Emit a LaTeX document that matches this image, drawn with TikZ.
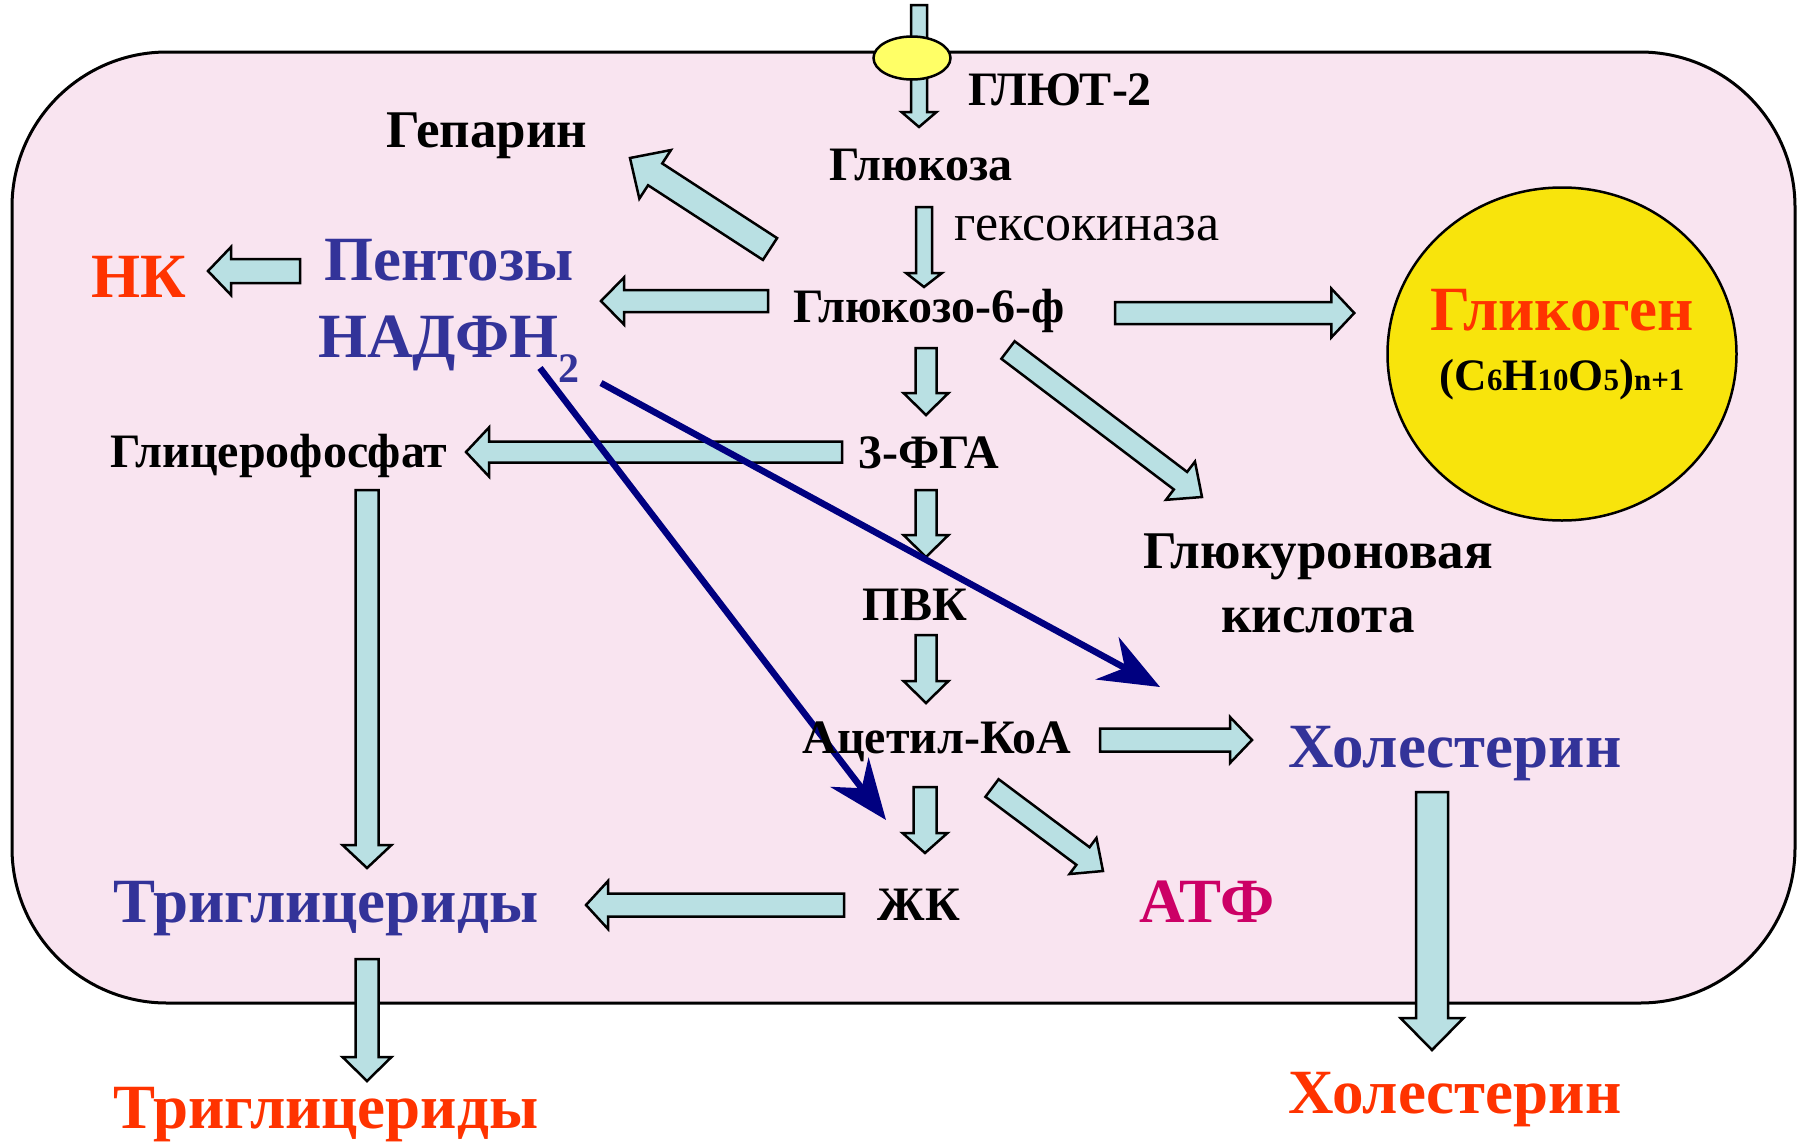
\documentclass[tikz,border=0pt]{standalone}
\usepackage{fontspec}
\setmainfont{Liberation Serif}
\usetikzlibrary{calc,shapes.geometric,arrows.meta}

\definecolor{cellpink}{RGB}{249,228,240}
\definecolor{flowcyan}{RGB}{185,224,227}
\definecolor{poreyellow}{RGB}{255,255,102}
\definecolor{storeyellow}{RGB}{248,228,12}
\definecolor{lipidblue}{RGB}{51,51,153}
\definecolor{outred}{RGB}{255,51,0}
\definecolor{atpmagenta}{RGB}{204,0,102}
\definecolor{redoxnavy}{RGB}{0,0,128}

\pgfdeclarelayer{back}
\pgfdeclarelayer{mid}
\pgfsetlayers{back,mid,main}

% block arrow: start, tip, half shaft, half head, head length (pt)
\newcommand\flowarrow[5]{%
  \path (#1) coordinate (fa-s) (#2) coordinate (fa-t);
  \path ($(fa-t)!#5pt!(fa-s)$) coordinate (fa-h);
  \draw[flow] ($(fa-s)!#3pt!90:(fa-t)$) -- ($(fa-h)!#3pt!90:(fa-t)$)
    -- ($(fa-h)!#4pt!90:(fa-t)$) -- (fa-t) -- ($(fa-h)!#4pt!-90:(fa-t)$)
    -- ($(fa-h)!#3pt!-90:(fa-t)$) -- ($(fa-s)!#3pt!-90:(fa-t)$) -- cycle;}

\tikzset{
  lbl/.style={anchor=base, inner sep=0pt, font=\fontsize{48}{56}\selectfont\bfseries},
  mid/.style={lbl, font=\fontsize{53}{60}\selectfont\bfseries},
  big/.style={lbl, font=\fontsize{63}{70}\selectfont\bfseries},
  flow/.style={draw=black, fill=flowcyan, line width=2.5pt, line join=miter},
  redox/.style={draw=redoxnavy, line width=6.5pt,
    -{Stealth[length=60pt,width=48pt,inset=20pt]}},
  cell/.style={draw=black, line width=3pt, fill=cellpink, rounded corners=155pt},
  pore/.style={ellipse, draw=black, line width=2.5pt, fill=poreyellow,
    minimum width=77pt, minimum height=43pt, inner sep=0pt},
  store/.style={ellipse, draw=black, line width=2.5pt, fill=storeyellow,
    minimum width=349pt, minimum height=333pt, inner sep=0pt}
}
\newcommand\idx[1]{{\fontsize{31}{31}\selectfont #1}}

\begin{document}
\begin{tikzpicture}[x=1pt, y=-1pt]
\useasboundingbox (0,0) rectangle (1805,1141);

% labels
\node[lbl] (glut) at (1060,105) {ГЛЮТ-2};
\node[mid] (hep) at (487,147) {Гепарин};
\node[lbl] (glc) at (921,180) {Глюкоза};
\node[lbl, font=\fontsize{52}{60}\selectfont] (hexo) at (1087,240) {гексокиназа};
\node[lbl] (g6p) at (929,322) {Глюкозо-6-ф};
\node[big, lipidblue] (pent) at (449,280) {Пентозы};
\node[big, lipidblue] (nadph) at (449,357)
  {НАДФН\raisebox{-25pt}{\fontsize{42}{42}\selectfont 2}};
\node[big, outred] (nk) at (139,297) {НК};
\node[big, outred] (glyc) at (1562,330) {Гликоген};
\node[lbl, font=\fontsize{45}{48}\selectfont\bfseries] (form) at (1562,390)
  {(C\idx{6}H\idx{10}O\idx{5})\idx{n+1}};
\node[lbl] (fga) at (929,468) {3-ФГА};
\node[lbl] (gp) at (279,467) {Глицерофосфат};
\node[mid] (gua) at (1318,568) {Глюкуроновая};
\node[mid] (gub) at (1318,632) {кислота};
\node[lbl] (pvk) at (915,620) {ПВК};
\node[lbl] (acoa) at (937,753) {Ацетил-КоА};
\node[big, lipidblue] (chol) at (1455,767) {Холестерин};
\node[lbl] (zhk) at (919,920) {ЖК};
\node[big, atpmagenta] (atp) at (1207,922) {АТФ};
\node[big, lipidblue] (tg) at (326,922) {Триглицериды};
\node[big, outred] (tgout) at (326,1128) {Триглицериды};
\node[big, outred] (cholout) at (1455,1113) {Холестерин};

\begin{pgfonlayer}{back}
  \draw[cell] (12,52) rectangle (1795,1003);
\end{pgfonlayer}

\begin{pgfonlayer}{mid}
  \node[store] (store) at (1562,354) {};
  \path (912,58) coordinate (gate);
  \flowarrow{$(gate)+(7,-53)$}{$(glc.base)+(-2,-53)$}{8}{17.5}{15}
  \flowarrow{$(glc.base)+(3,27)$}{$(g6p.base)+(-5,-35)$}{8}{18}{14}
  \flowarrow{$(g6p.base)+(-3,26)$}{$(fga.base)+(-3,-53)$}{10.5}{22.5}{22}
  \flowarrow{$(fga.base)+(-3,22)$}{$(pvk.base)+(11,-63)$}{10.5}{22.5}{22}
  \flowarrow{$(pvk.base)+(11,15)$}{$(acoa.base)+(-11,-50)$}{10.5}{22.5}{22}
  \flowarrow{$(acoa.base)+(-12,34)$}{$(zhk.base)+(6,-67)$}{11.5}{22.5}{20}
  \flowarrow{$(g6p.base)+(-161,-21)$}{$(pent.base)+(152,21)$}{11}{23.5}{23}
  \flowarrow{$(pent.base)+(-149,-9)$}{$(nk.base)+(69,-26)$}{12}{24}{23}
  \flowarrow{$(g6p.base)+(-159,-73)$}{$(hep.base)+(143,11)$}{13}{29}{30}
  \flowarrow{$(g6p.base)+(79,28)$}{$(gua.base)+(-116,-71)$}{11}{24}{27}
  \flowarrow{$(g6p.base)+(186,-9)$}{$(store.west)+(-32,-41)$}{11}{24.5}{23}
  \flowarrow{$(fga.base)+(-87,-16)$}{$(gp.base)+(187,-15)$}{10.5}{24.5}{23}
  \flowarrow{$(gp.base)+(88,23)$}{$(tg.base)+(41,-54)$}{11.5}{24.5}{23}
  \flowarrow{$(zhk.base)+(-75,-15)$}{$(tg.base)+(260,-17)$}{11.5}{24}{22}
  \flowarrow{$(tg.base)+(41,37)$}{$(tgout.base)+(41,-47)$}{11.5}{24.5}{24}
  \flowarrow{$(acoa.base)+(163,-13)$}{$(chol.base)+(-203,-27)$}{11.5}{23}{22}
  \flowarrow{$(acoa.base)+(55,35)$}{$(atp.base)+(-104,-51)$}{11}{22.5}{25}
  \flowarrow{$(chol.base)+(-23,25)$}{$(cholout.base)+(-23,-63)$}{16}{31.5}{32}
  \draw[redox] ($(nadph.base)+(91,11)$) -- ($(zhk.base)+(-33,-100)$);
  \draw[redox] ($(nadph.base)+(152,26)$) -- ($(chol.base)+(-295,-80)$);
\end{pgfonlayer}

\node[pore] (pore) at (gate) {};
\end{tikzpicture}
\end{document}
